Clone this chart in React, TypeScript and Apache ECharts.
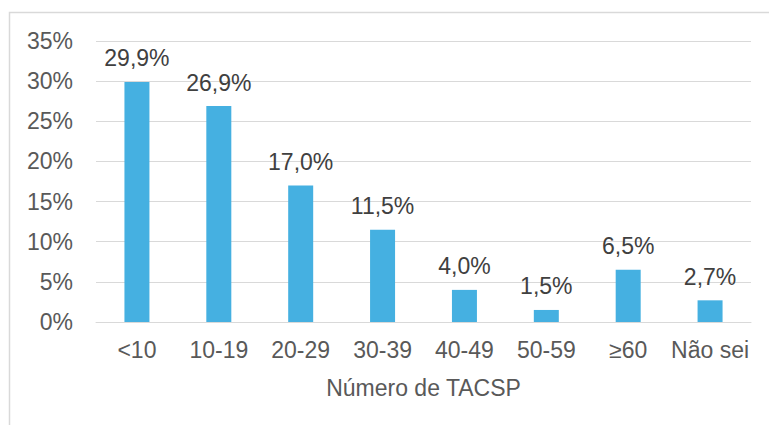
import React, { useEffect, useRef } from "react";
import * as echarts from "echarts";

const categories = ["<10", "10-19", "20-29", "30-39", "40-49", "50-59", "≥60", "Não sei"];
const values = [29.9, 26.9, 17.0, 11.5, 4.0, 1.5, 6.5, 2.7];
const yTicks = [0, 5, 10, 15, 20, 25, 30, 35];
const axisTitle = "Número de TACSP";

const FONT = "'Liberation Sans', Arial, sans-serif";

export default function App() {
  const ref = useRef<HTMLDivElement>(null);
  useEffect(() => {
    if (!ref.current) return;
    const chart = echarts.init(ref.current, undefined, { renderer: "svg" });
    chart.setOption({
      animation: false,
      textStyle: { fontFamily: FONT },
      graphic: [
        {
          type: "rect",
          shape: { x: 9.5, y: 12.5, width: 900, height: 600 },
          style: { fill: "none", stroke: "#d9d9d9", lineWidth: 1.5 },
          silent: true,
          z: -10,
        },
      ],
      grid: { left: 96, right: 18, top: 41, bottom: 103, containLabel: false },
      xAxis: {
        type: "category",
        data: categories,
        axisLine: { show: true, lineStyle: { color: "#d9d9d9", width: 1 } },
        axisTick: { show: false },
        axisLabel: { color: "#595959", fontSize: 23, fontFamily: FONT, margin: 16, interval: 0 },
        name: axisTitle,
        nameLocation: "middle",
        nameGap: 54,
        nameTextStyle: { color: "#595959", fontSize: 23, fontFamily: FONT },
      },
      yAxis: {
        type: "value",
        min: yTicks[0],
        max: yTicks[yTicks.length - 1],
        interval: 5,
        axisLine: { show: false },
        axisTick: { show: false },
        splitLine: { show: true, lineStyle: { color: "#d9d9d9", width: 1 } },
        axisLabel: {
          color: "#595959",
          fontSize: 23,
          fontFamily: FONT,
          margin: 23,
          formatter: (v: number) => `${v}%`,
        },
      },
      series: [
        {
          type: "bar",
          data: values,
          barWidth: 25,
          itemStyle: { color: "#45B0E1" },
          label: {
            show: true,
            position: "top",
            distance: 12,
            color: "#404040",
            fontSize: 23,
            fontFamily: FONT,
            formatter: (p: any) => `${p.value.toFixed(1).replace(".", ",")}%`,
          },
        },
      ],
    });
    return () => chart.dispose();
  }, []);
  return (
    <div
      ref={ref}
      style={{ position: "absolute", left: 0, top: 0, width: 769, height: 425, background: "#fff" }}
    />
  );
}
